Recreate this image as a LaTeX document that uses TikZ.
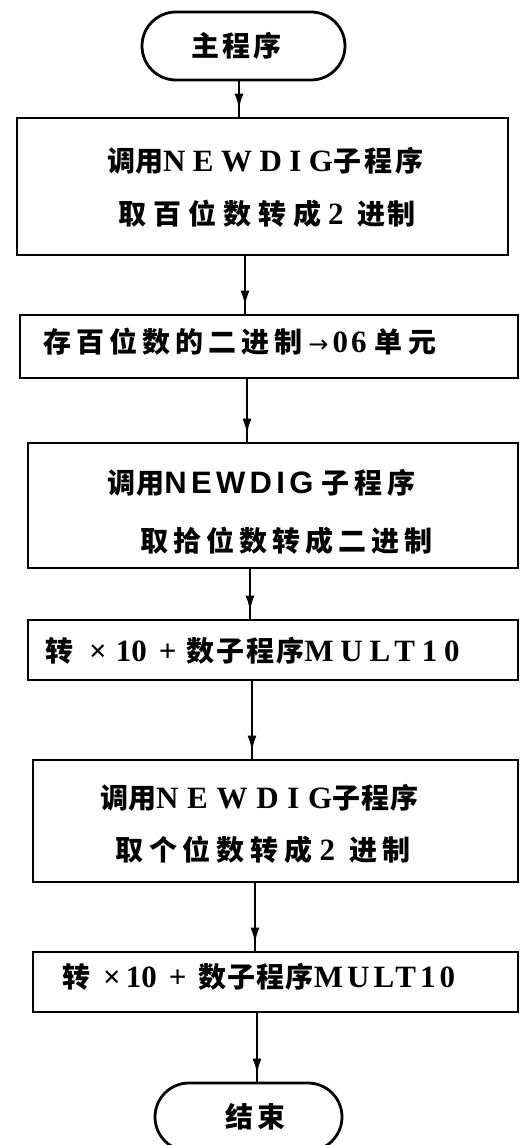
\documentclass[tikz,border=0pt]{standalone}
\usepackage{fontspec}
\setmainfont{Liberation Serif}
\newfontfamily\cjkf{Noto Sans CJK SC}
\newfontfamily\latf{Liberation Serif}
\newfontfamily\sanf{Liberation Sans}
\newfontfamily\symf{DejaVu Sans}
\newcommand\zhs[2]{{\cjkf\bfseries\fontsize{28}{30}\selectfont\addfontfeature{LetterSpace=#1}#2}}
\newcommand\lts[3]{{\latf\bfseries\fontsize{#1}{30}\selectfont\addfontfeature{LetterSpace=#2}#3}}
\newcommand\sts[3]{{\sanf\bfseries\fontsize{#1}{30}\selectfont\addfontfeature{LetterSpace=#2}#3}}
\hfuzz=200pt
\usetikzlibrary{arrows.meta,decorations.markings}
\begin{document}
\begin{tikzpicture}[x=1pt,y=-1pt,
  box/.style={draw, line width=2.8pt, inner sep=0pt},
  term/.style={box, rounded corners=34pt, minimum height=68pt},
  txt/.style={inner sep=0pt, anchor=west},
  flow/.style={line width=2.8pt, postaction={decorate},
    decoration={markings, mark=at position -7pt with {\arrow{Latex[length=16pt,width=9pt]}}}}]
\useasboundingbox (0,0) rectangle (520,1145);
\clip (0,0) rectangle (520,1145);

% boxes
\node[term, minimum width=203pt] (start) at (243.5,46) {\zhs{11}{主程序}\hspace*{14pt}};
\node[box, minimum width=491pt, minimum height=137pt] (b1) at (262.5,186.5) {};
\node[box, minimum width=498pt, minimum height=63pt]  (b2) at (269,346.5) {};
\node[box, minimum width=490pt, minimum height=125pt] (b3) at (273,505.5) {};
\node[box, minimum width=490pt, minimum height=60pt]  (b4) at (273,650) {};
\node[box, minimum width=485pt, minimum height=122pt] (b5) at (275.5,821) {};
\node[box, minimum width=485pt, minimum height=60pt]  (b6) at (275.5,982) {};
\node[term, minimum width=187pt] (end) at (248.5,1117) {\hspace*{14pt}\zhs{11}{结束}};

% texts
\node[txt] (t1a) at (107,161) {\zhs{0}{调用}\lts{31}{24}{NEWDIG}\zhs{11}{子程序}};
\node[txt] (t1b) at (118,214) {\zhs{25}{取百位数转成}\hspace{7pt}\lts{31}{0}{2}\hspace{14pt}\zhs{5}{进制}};
\node[txt] (t2)  at (43,342)  {\zhs{18}{存百位数的二进制}\hspace{6pt}{\symf\fontsize{24}{30}\selectfont →}\hspace{4pt}\lts{31}{10}{06}\hspace{8pt}\zhs{21}{单元}};
\node[txt] (t3a) at (107,483) {\zhs{4}{调用}\sts{31}{14}{NEWDIG}\hspace{8pt}\zhs{18}{子程序}};
\node[txt] (t3b) at (140,541) {\zhs{18}{取拾位数转成二进制}};
\node[txt] (t4)  at (45,651)  {\zhs{0}{转}\hspace{16pt}\lts{31}{0}{×\hspace{9pt}10\hspace{12pt}+}\hspace{10pt}\zhs{7}{数子程序}\lts{31}{22}{MULT10}};
\node[txt] (t5a) at (100,798) {\zhs{0}{调用}\lts{31}{28}{NEWDIG}\zhs{4}{子程序}};
\node[txt] (t5b) at (115,850) {\zhs{21}{取个位数转成}\hspace{7pt}\lts{31}{0}{2}\hspace{14pt}\zhs{21}{进制}};
\node[txt] (t6)  at (62,977)  {\zhs{0}{转}\hspace{13pt}\lts{31}{0}{×\hspace{5pt}10\hspace{12pt}+}\hspace{12pt}\zhs{4}{数子程序}\lts{31}{13}{MULT10}};

% connector columns
\coordinate (x0) at (239,0);
\coordinate (x1) at (245,0);
\coordinate (x2) at (247,0);
\coordinate (x3) at (250,0);
\coordinate (x4) at (252,0);
\coordinate (x5) at (255,0);
\coordinate (x6) at (257,0);

\draw[flow] (start.south -| x0) -- (b1.north -| x0);
\draw[flow] (b1.south -| x1) -- (b2.north -| x1);
\draw[flow] (b2.south -| x2) -- (b3.north -| x2);
\draw[flow] (b3.south -| x3) -- (b4.north -| x3);
\draw[flow] (b4.south -| x4) -- (b5.north -| x4);
\draw[flow] (b5.south -| x5) -- (b6.north -| x5);
\draw[flow] (b6.south -| x6) -- (end.north -| x6);
\end{tikzpicture}
\end{document}
